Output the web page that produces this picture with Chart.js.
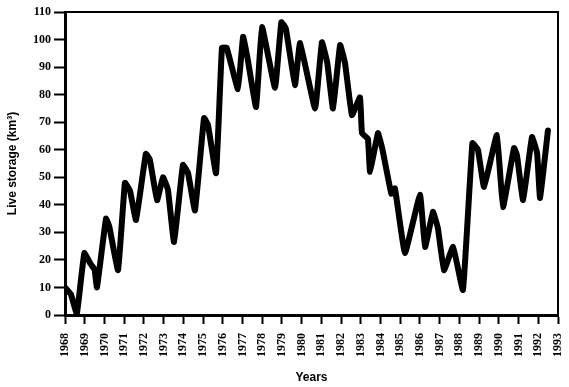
<!DOCTYPE html>
<html>
<head>
<meta charset="utf-8">
<script src="https://cdn.jsdelivr.net/npm/chart.js@4"></script>
<style>
	body { margin: 0; background: #fff; }
	canvas { display: block; }
</style>
</head>
<body>
<canvas id="chart" width="569" height="387"></canvas>
<script>
// time position (decimal year) of each traced vertex
const years = [
	1968.00, 1968.30, 1968.60, 1968.98, 1969.30, 1969.50, 1969.62,
	1970.08, 1970.25, 1970.69, 1971.04, 1971.30, 1971.60,
	1972.10, 1972.30, 1972.67, 1972.97, 1973.22, 1973.53,
	1973.98, 1974.24, 1974.59, 1975.05, 1975.25, 1975.66,
	1975.96, 1976.20, 1976.77, 1977.03, 1977.25, 1977.69,
	1977.99, 1978.65, 1978.97, 1979.20, 1979.66, 1979.92,
	1980.68, 1981.03, 1981.30, 1981.59, 1981.95, 1982.20, 1982.55,
	1982.96, 1983.06, 1983.36, 1983.47, 1983.87, 1984.10, 1984.55,
	1984.73, 1985.24, 1986.00, 1986.26, 1986.66, 1986.91, 1987.22,
	1987.68, 1988.18, 1988.66, 1988.94, 1989.25, 1989.90, 1990.21,
	1990.77, 1990.92, 1991.23, 1991.68, 1991.94, 1992.09, 1992.49
];

// live storage, km3
const storage = [
	10, 7.5, 0.5, 22.5, 18.5, 16.5, 10,
	35, 32, 16.3, 48, 45, 34.5,
	58.5, 56.5, 41.7, 50, 45.5, 26.5,
	54.5, 51.5, 38, 71.5, 69, 51.5,
	97, 97, 82, 101, 93.5, 75.5,
	104.5, 82.5, 106.3, 104, 83.5, 98.7,
	75, 99, 91.5, 75, 98, 91.5, 72.6,
	79, 66, 64, 52, 66, 60, 44,
	46, 22.5, 43.6, 24.7, 37.4, 31.5, 16.3,
	24.7, 9.1, 62.4, 60, 46.5, 65.3, 39.2,
	60.6, 58, 41.7, 64.6, 58.8, 42.5, 67
];

const yearLabels = [
	'1968', '1969', '1970', '1971', '1972', '1973', '1974', '1975', '1976',
	'1977', '1978', '1979', '1980', '1981', '1982', '1983', '1984', '1985',
	'1986', '1987', '1988', '1989', '1990', '1991', '1992', '1993'
];

const tickFont = {family: '"Liberation Serif", serif', size: 12, weight: 'bold'};
const titleFont = {family: '"Liberation Sans", Arial, sans-serif', size: 12, weight: 'bold'};

// top and right edges of the frame
const frame = {
	id: 'frame',
	afterDraw(chart) {
		const {ctx, chartArea: a} = chart;
		ctx.save();
		ctx.strokeStyle = '#000';
		ctx.lineWidth = 2;
		ctx.beginPath();
		ctx.moveTo(a.left, a.top);
		ctx.lineTo(a.right, a.top);
		ctx.lineTo(a.right, a.bottom);
		ctx.stroke();
		ctx.restore();
	}
};

new Chart(document.getElementById('chart'), {
	type: 'line',
	data: {
		datasets: [{
			data: years.map((x, i) => ({x: x, y: storage[i]})),
			borderColor: '#000',
			borderWidth: 6,
			borderJoinStyle: 'round',
			borderCapStyle: 'round',
			tension: 0.1,
			pointRadius: 0,
			fill: false,
		}]
	},
	options: {
		responsive: false,
		animation: false,
		devicePixelRatio: 1,
		layout: {padding: {top: 12, right: 11, left: 0, bottom: 0}},
		plugins: {
			legend: {display: false},
			tooltip: {enabled: false},
		},
		scales: {
			x: {
				type: 'linear',
				min: 1968,
				max: 1993,
				afterFit: (scale) => {
					scale.height = 72;
					scale.paddingLeft = 0;
					scale.paddingRight = 0;
				},
				border: {display: true, color: '#000', width: 3},
				grid: {drawOnChartArea: false, drawTicks: true, tickLength: 9, tickWidth: 2, tickColor: '#000'},
				ticks: {
					stepSize: 1,
					autoSkip: false,
					minRotation: 90,
					maxRotation: 90,
					padding: 9,
					color: '#000',
					font: tickFont,
					callback: (v) => yearLabels[Math.round(v - 1968)],
				},
				title: {display: true, text: 'Years', color: '#000', font: titleFont, padding: {top: 0, bottom: 2}},
			},
			y: {
				min: 0,
				max: 110,
				afterFit: (scale) => {
					scale.width = 65;
					scale.paddingTop = 0;
					scale.paddingBottom = 0;
				},
				border: {display: true, color: '#000', width: 3},
				grid: {drawOnChartArea: false, drawTicks: true, tickLength: 11, tickWidth: 2, tickColor: '#000'},
				ticks: {
					stepSize: 10,
					padding: 3,
					color: '#000',
					font: tickFont,
				},
				title: {display: true, text: 'Live storage (km³)', color: '#000', font: titleFont, padding: {top: 5, bottom: 0}},
			}
		}
	},
	plugins: [frame]
});
</script>
</body>
</html>
